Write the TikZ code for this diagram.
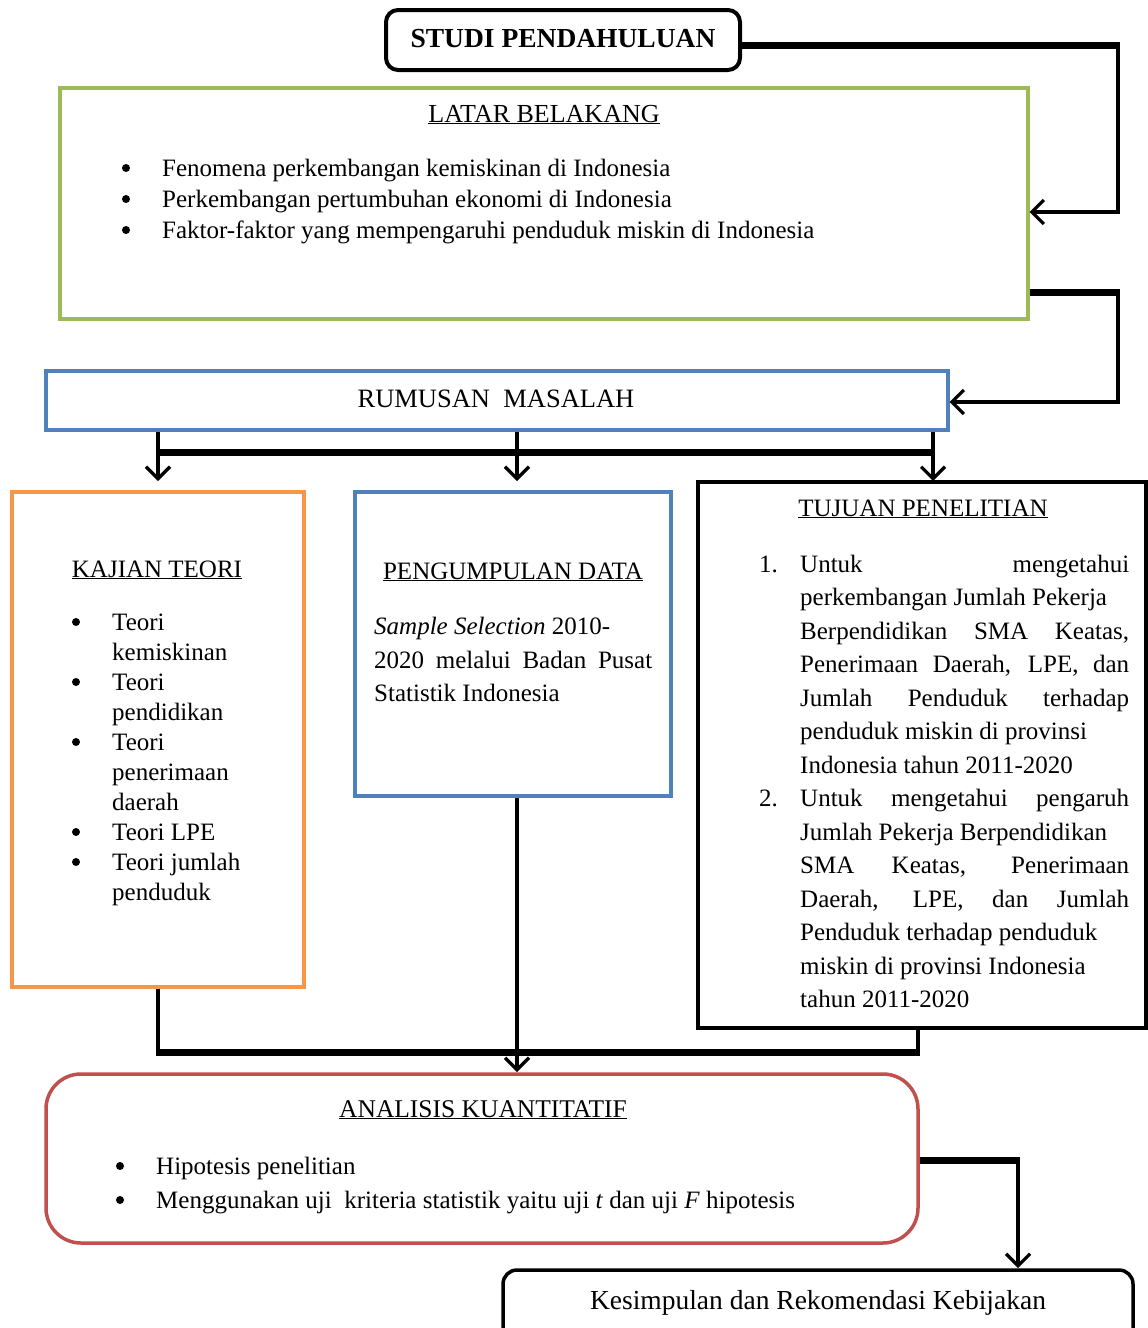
\documentclass[tikz,border=0pt]{standalone}
\usepackage{fontspec}
\setmainfont{Liberation Serif}
\usetikzlibrary{arrows.meta}
\definecolor{cgreen}{HTML}{9BBB59}
\definecolor{cblue}{HTML}{4F81BD}
\definecolor{corange}{HTML}{F79646}
\definecolor{cred}{HTML}{C0504D}
\begin{document}
\begin{tikzpicture}[x=1pt,y=-1pt,
  txt/.style={font=\fontsize{25}{31}\selectfont, inner sep=0pt, anchor=base west},
  ctxt/.style={font=\fontsize{25}{31}\selectfont, inner sep=0pt, anchor=base},
  dot/.style={circle, fill=black, inner sep=0pt, minimum size=8pt},
  frame/.style={line width=3.2pt, inner sep=0pt, fill=white},
  conn/.style={line width=3.5pt, line join=miter},
  heavy/.style={line width=7pt},
  tip/.style={-{Straight Barb[length=12pt,width=24pt,line width=3.2pt]}}
]
\useasboundingbox (0,0) rectangle (1148,1328);
\fill[white] (0,0) rectangle (1148,1328);

% boxes
\node[frame, draw=black, line width=4pt, rounded corners=12pt, minimum width=354pt, minimum height=60pt] (studi) at (563,40) {};
\node[frame, draw=cgreen, minimum width=968pt, minimum height=231pt] (latar) at (544,203.5) {};
\node[frame, draw=cblue, minimum width=902pt, minimum height=59pt] (rumusan) at (497,400.5) {};
\node[frame, draw=corange, minimum width=292pt, minimum height=495pt] (kajian) at (158,739.5) {};
\node[frame, draw=cblue, line width=3.5pt, minimum width=316pt, minimum height=304pt] (data) at (513,644) {};
\node[frame, draw=black, minimum width=448pt, minimum height=546pt] (tujuan) at (922,755) {};
\node[frame, draw=cred, line width=3.5pt, rounded corners=35pt, minimum width=872pt, minimum height=169pt] (analisis) at (482,1158.5) {};
\node[frame, draw=black, line width=3.5pt, rounded corners=14pt, minimum width=630pt, minimum height=76pt] (kesimpulan) at (818,1308) {};

% texts
\node[ctxt, font=\fontsize{27.5}{31}\selectfont\bfseries] (tstudi) at (563,47) {STUDI PENDAHULUAN};

\node[ctxt, font=\fontsize{26}{31}\selectfont] (tlatar) at (544,122) {\underline{LATAR BELAKANG}};
\node[dot] (bl1) at (126,168) {};
\node[txt] (l1) at (162,176) {Fenomena perkembangan kemiskinan di Indonesia};
\node[dot] (bl2) at (126,199) {};
\node[txt] (l2) at (162,207) {Perkembangan pertumbuhan ekonomi di Indonesia};
\node[dot] (bl3) at (126,230) {};
\node[txt] (l3) at (162,238) {Faktor-faktor yang mempengaruhi penduduk miskin di Indonesia};

\node[ctxt, font=\fontsize{26.5}{31}\selectfont] (trumusan) at (496,407) {RUMUSAN\ \ MASALAH};

\node[ctxt] (tkajian) at (157,577) {\underline{KAJIAN TEORI}};
\node[dot] (kb1) at (76,622) {};
\node[txt] (k1) at (112,630) {Teori};
\node[txt] (k2) at (112,660) {kemiskinan};
\node[dot] (kb2) at (76,682) {};
\node[txt] (k3) at (112,690) {Teori};
\node[txt] (k4) at (112,720) {pendidikan};
\node[dot] (kb3) at (76,742) {};
\node[txt] (k5) at (112,750) {Teori};
\node[txt] (k6) at (112,780) {penerimaan};
\node[txt] (k7) at (112,810) {daerah};
\node[dot] (kb4) at (76,832) {};
\node[txt] (k8) at (112,840) {Teori LPE};
\node[dot] (kb5) at (76,862) {};
\node[txt] (k9) at (112,870) {Teori jumlah};
\node[txt] (k10) at (112,900) {penduduk};

\node[ctxt] (tdata) at (513,579) {\underline{PENGUMPULAN DATA}};
\node[txt] (d1) at (374,634) {\textit{Sample Selection} 2010-};
\node[txt] (d2) at (374,668) {\makebox[278pt][s]{2020 melalui Badan Pusat}};
\node[txt] (d3) at (374,701) {Statistik Indonesia};

\node[ctxt] (ttujuan) at (923,516) {\underline{TUJUAN PENELITIAN}};
\node[txt] (n1) at (759,572) {1.};
\node[txt] (u1) at (800,572) {\makebox[329pt][s]{Untuk mengetahui}};
\node[txt] (u2) at (800,605.5) {perkembangan Jumlah Pekerja};
\node[txt] (u3) at (800,639) {\makebox[329pt][s]{Berpendidikan SMA Keatas,}};
\node[txt] (u4) at (800,672.5) {\makebox[329pt][s]{Penerimaan Daerah, LPE, dan}};
\node[txt] (u5) at (800,706) {\makebox[329pt][s]{Jumlah Penduduk terhadap}};
\node[txt] (u6) at (800,739.5) {penduduk miskin di provinsi};
\node[txt] (u7) at (800,773) {Indonesia tahun 2011-2020};
\node[txt] (n2) at (759,806.5) {2.};
\node[txt] (u8) at (800,806.5) {\makebox[329pt][s]{Untuk mengetahui pengaruh}};
\node[txt] (u9) at (800,840) {Jumlah Pekerja Berpendidikan};
\node[txt] (u10) at (800,873.5) {\makebox[329pt][s]{SMA Keatas, Penerimaan}};
\node[txt] (u11) at (800,907) {\makebox[329pt][s]{Daerah, LPE, dan Jumlah}};
\node[txt] (u12) at (800,940.5) {Penduduk terhadap penduduk};
\node[txt] (u13) at (800,974) {miskin di provinsi Indonesia};
\node[txt] (u14) at (800,1007.5) {tahun 2011-2020};

\node[ctxt, font=\fontsize{25.5}{31}\selectfont] (tanalisis) at (483,1117) {\underline{ANALISIS KUANTITATIF}};
\node[dot] (ab1) at (120,1166) {};
\node[txt] (a1) at (156,1174) {Hipotesis penelitian};
\node[dot] (ab2) at (120,1200) {};
\node[txt] (a2) at (156,1208) {Menggunakan uji\ \ kriteria statistik yaitu uji \textit{t} dan uji \textit{F} hipotesis};

\node[ctxt, font=\fontsize{27.5}{31}\selectfont] (tkes) at (818,1309) {Kesimpulan dan Rekomendasi Kebijakan};

% connectors
\coordinate (c1) at (1118,45);
\coordinate (c2) at (1118,212);
\draw[conn, tip] (c1) -- (c2) -- (latar.east |- c2);
\draw[heavy] (studi.east |- c1) -- ([xshift=1.75pt]c1);

\coordinate (c3) at (1118,292);
\coordinate (c4) at (1118,402);
\draw[conn, tip] (c3) -- (c4) -- (rumusan.east |- c4);
\draw[heavy] (latar.east |- c3) -- ([xshift=1.75pt]c3);

\coordinate (r1) at (158,481);
\coordinate (r2) at (517,481);
\coordinate (r3) at (933,481);
\coordinate (rb) at (0,452);
\draw[conn, tip] (rumusan.south -| r1) -- (r1);
\draw[conn, tip] (rumusan.south -| r2) -- (r2);
\draw[conn, tip] (rumusan.south -| r3) -- (r3);
\draw[heavy] (rb -| r1) -- (rb -| r3);

\coordinate (m1) at (158,1052);
\coordinate (m2) at (918,1052);
\draw[conn] (kajian.south) -- (m1);
\draw[conn] (tujuan.south -| m2) -- (m2);
\draw[heavy] ([xshift=-1.75pt]m1) -- ([xshift=1.75pt]m2);
\coordinate (p1) at (517,1072);
\draw[conn, tip] (data.south -| p1) -- (p1);

\coordinate (e1) at (1018,1160);
\coordinate (e2) at (1018,1268);
\draw[conn, tip] (e1) -- (e2);
\draw[heavy] (analisis.east |- e1) -- ([xshift=1.75pt]e1);
\end{tikzpicture}
\end{document}
